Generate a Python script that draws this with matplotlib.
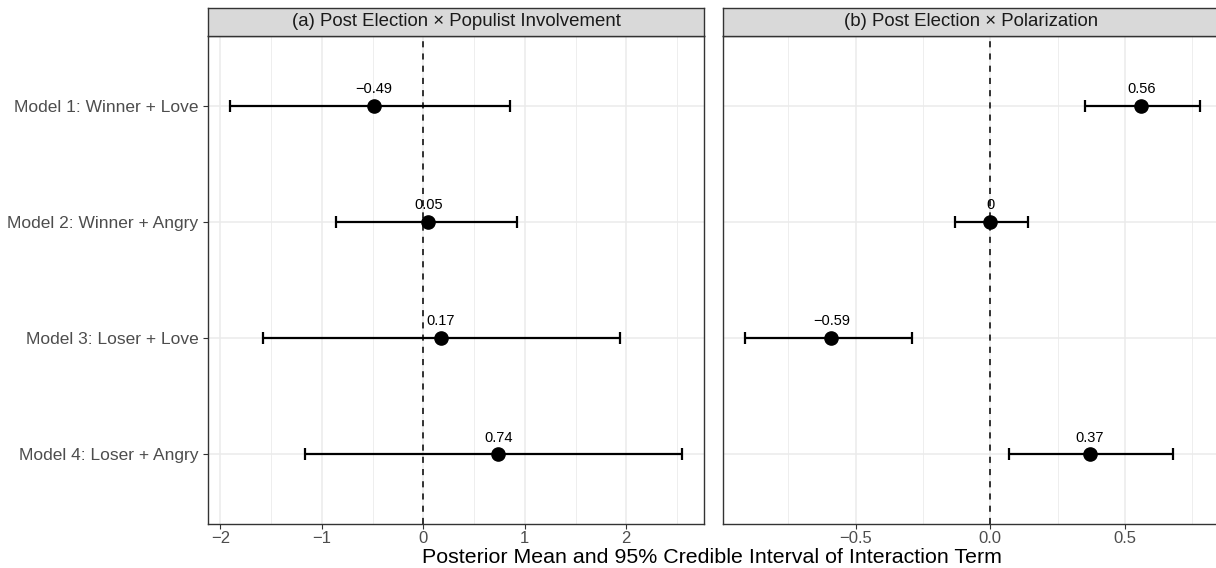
import numpy as np
import matplotlib.pyplot as plt
from matplotlib.ticker import MultipleLocator

plt.rcParams['font.family'] = ['Liberation Sans', 'DejaVu Sans']

models = ['Model 1: Winner + Love', 'Model 2: Winner + Angry',
          'Model 3: Loser + Love', 'Model 4: Loser + Angry']

# panel (a): Post Election x Populist Involvement
pop_mean = [-0.49, 0.05, 0.17, 0.74]
pop_low = [-1.90, -0.86, -1.58, -1.17]
pop_high = [0.85, 0.92, 1.94, 2.55]

# panel (b): Post Election x Polarization
pol_mean = [0.56, 0.00, -0.59, 0.37]
pol_low = [0.35, -0.13, -0.91, 0.07]
pol_high = [0.78, 0.14, -0.29, 0.68]

titles = ['(a) Post Election × Populist Involvement', '(b) Post Election × Polarization']

fig = plt.figure(figsize=(12.16, 5.68), dpi=100)
W, H = 1216, 568

def frac(x0, y0, x1, y1):
    return [x0 / W, 1 - y1 / H, (x1 - x0) / W, (y1 - y0) / H]

ax1 = fig.add_axes(frac(208.3, 36, 704, 524))
ax2 = fig.add_axes(frac(723.3, 36, 1219, 524))
s1 = fig.add_axes(frac(208.3, 7.5, 704, 36))
s2 = fig.add_axes(frac(723.3, 7.5, 1219, 36))

ypos = np.arange(len(models))

panels = [(ax1, pop_mean, pop_low, pop_high, (-2.118, 2.766), 1.0),
          (ax2, pol_mean, pol_low, pol_high, (-0.991, 0.849), 0.5)]

for ax, m, lo, hi, xl, step in panels:
    m = np.array(m); lo = np.array(lo); hi = np.array(hi)
    ax.set_xlim(*xl)
    ax.set_ylim(len(models) - 1 + 0.6, -0.6)
    ax.xaxis.set_major_locator(MultipleLocator(step))
    ax.xaxis.set_minor_locator(MultipleLocator(step / 2))
    ax.set_yticks(ypos)
    ax.grid(which='major', color='#EBEBEB', lw=1.1)
    ax.grid(which='minor', axis='x', color='#EBEBEB', lw=0.6)
    ax.set_axisbelow(True)
    ax.axvline(0, color='black', ls=(0, (4, 4)), lw=1.1, zorder=2)
    ax.errorbar(m, ypos, xerr=[m - lo, hi - m], fmt='o', color='black',
                ms=9.5, elinewidth=1.6, capsize=4.5, capthick=1.6, zorder=3)
    for v, y in zip(m, ypos):
        lab = f'{round(v, 2):g}'.replace('-', '\u2212')
        ax.annotate(lab, (v, y), textcoords='offset points', xytext=(0, 7),
                    ha='center', va='bottom', fontsize=10.5, color='black')
    for side in ['left', 'bottom', 'right', 'top']:
        ax.spines[side].set_color('#333333')
        ax.spines[side].set_linewidth(1.0)
    ax.tick_params(axis='x', which='minor', length=0)
    ax.tick_params(axis='both', which='major', colors='#333333', length=3.5,
                   labelcolor='#4D4D4D', labelsize=12.5, width=0.8)
    ax.tick_params(axis='x', which='major', pad=1.5, labelsize=12)

ax1.set_yticklabels(models)
ax1.set_xticklabels([f'{t:g}'.replace('-', '\u2212') for t in ax1.get_xticks()])
ax2.set_yticklabels([])
ax2.tick_params(axis='y', length=0)
ax2.set_xticks([-0.5, 0.0, 0.5])
ax2.set_xticklabels(['\u22120.5', '0.0', '0.5'])

for s, t in zip([s1, s2], titles):
    s.set_facecolor('#D9D9D9')
    s.set_xticks([]); s.set_yticks([])
    for side in s.spines.values():
        side.set_color('#333333')
        side.set_linewidth(1.0)
    s.text(0.5, 0.5, t, ha='center', va='center', fontsize=13.4,
           color='#1A1A1A', transform=s.transAxes)

fig.text(0.5 * (208.3 + 1216) / W, 1 - 557.5 / H,
         'Posterior Mean and 95% Credible Interval of Interaction Term',
         ha='center', va='center', fontsize=15.4, color='black')

fig.savefig('out.png', dpi=100)
